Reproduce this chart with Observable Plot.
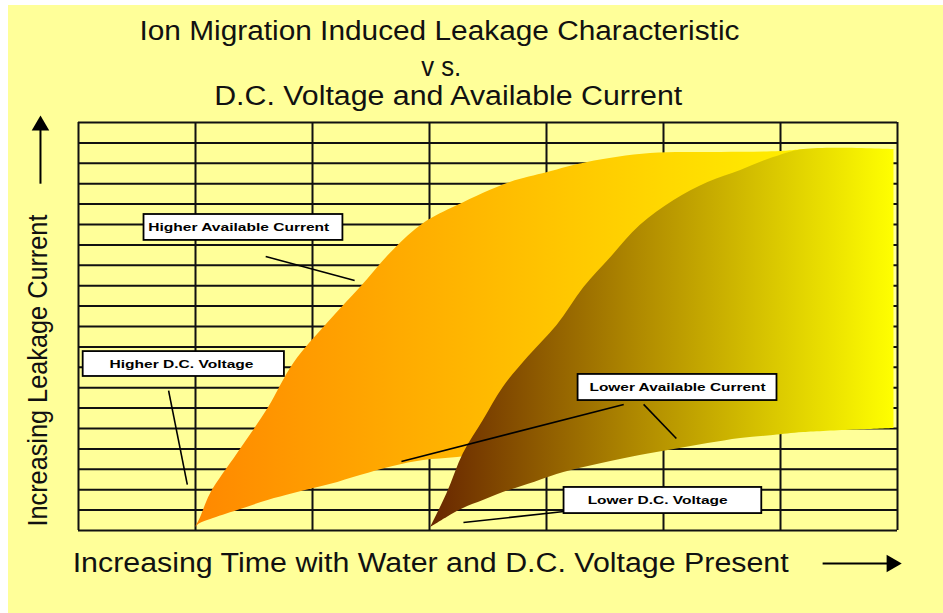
<!DOCTYPE html>
<html>
<head>
<meta charset="utf-8">
<script src="https://cdn.jsdelivr.net/npm/d3@7"></script>
<script src="https://cdn.jsdelivr.net/npm/@observablehq/plot@0.6"></script>
<style>
  html, body { margin: 0; padding: 0; background: #ffffff; }
  #chart svg { display: block; margin-left: 8px; margin-top: 5px; }
</style>
</head>
<body>
<div id="chart"></div>
<script>
// ---- grid (columns = time units, rows = leakage units) ----
const colTicks = [0, 1, 2, 3, 4, 5, 6, 7];
const rowTicks = [0, 1, 2, 3, 4, 5, 6, 7, 8, 9, 10, 11, 12, 13, 14, 15, 16, 17, 18, 19, 20];

// ---- Higher D.C. voltage band (orange) ----
const aX      = [1.00, 1.04, 1.13, 1.36, 1.62, 1.84, 2.15, 2.41, 2.69, 2.95, 3.24, 3.69, 4.01, 4.35, 4.89, 5.49, 6.00, 6.20];
const aTop    = [0.15, 0.59, 1.81, 3.77, 5.98, 8.19, 10.29, 11.91, 13.73, 15.05, 15.93, 17.06, 17.55, 18.04, 18.48, 18.53, 18.58, 18.68];
const aBottom = [0.15, 0.34, 0.54, 0.98, 1.47, 1.81, 2.25, 2.70, 3.14, 3.43, 3.58, 3.82, 3.97, 4.12, 4.40, 4.80, 5.40, 5.80];

// ---- Lower D.C. voltage band (brown -> yellow) ----
const bX      = [3.01, 3.15, 3.29, 3.46, 3.63, 3.84, 4.09, 4.32, 4.55, 4.80, 5.09, 5.38, 5.66, 5.94, 6.20, 6.97];
const bTop    = [0.15, 1.81, 3.77, 5.39, 7.01, 8.48, 10.05, 11.91, 13.38, 14.95, 16.18, 17.06, 17.65, 18.28, 18.68, 18.68];
const bBottom = [0.15, 0.64, 1.08, 1.47, 1.86, 2.25, 2.75, 3.09, 3.38, 3.68, 3.97, 4.26, 4.51, 4.66, 4.80, 5.00];

// ---- callout labels ----
const calloutText = ["Higher Available Current", "Higher D.C. Voltage", "Lower Available Current", "Lower D.C. Voltage"];
const calloutX1 = [0.56, 0.04, 4.27, 4.15];
const calloutX2 = [2.26, 1.76, 5.97, 5.84];
const calloutY1 = [14.22, 7.55, 6.37, 0.83];
const calloutY2 = [15.49, 8.77, 7.65, 2.11];
const calloutTX = [1.37, 0.88, 5.12, 4.95];
const calloutTY = [14.85, 8.16, 7.01, 1.47];

// ---- leader lines ----
const leaderX1 = [1.60, 0.77, 4.66, 4.83, 3.29];
const leaderY1 = [13.43, 6.86, 6.18, 6.18, 0.39];
const leaderX2 = [2.36, 0.93, 2.76, 5.11, 4.15];
const leaderY2 = [12.25, 2.25, 3.38, 4.51, 0.93];

// ---- titles & axis labels ----
const titleLines = ["Ion Migration Induced Leakage Characteristic", "v s.", "D.C. Voltage and Available Current"];
const titleX = [3.085, 3.10, 3.16];
const titleY = [24.05, 22.3, 20.85];
const xLabel = "Increasing Time with Water and D.C. Voltage Present";
const yLabel = "Increasing Leakage Current";

// ---- axis arrows ----
const arrowX1 = [6.36, -0.325];
const arrowY1 = [-1.62, 17.0];
const arrowX2 = [6.95, -0.325];
const arrowY2 = [-1.62, 19.85];
const arrowRot = [90, 0];

const font = "'Liberation Sans', Arial, sans-serif";
const idx = (arr) => arr.map((_, i) => i);

const gradients = (index, scales) => {
  const defs = d3.create("svg:defs");
  const ga = defs.append("linearGradient").attr("id", "gradA").attr("gradientUnits", "userSpaceOnUse")
    .attr("x1", scales.x(aX[0])).attr("x2", scales.x(bX[bX.length - 1])).attr("y1", 0).attr("y2", 0);
  ga.append("stop").attr("offset", 0).attr("stop-color", "#FF8800");
  ga.append("stop").attr("offset", 1).attr("stop-color", "#FFFF00");
  const gb = defs.append("linearGradient").attr("id", "gradB").attr("gradientUnits", "userSpaceOnUse")
    .attr("x1", scales.x(bX[0])).attr("x2", scales.x(bX[bX.length - 1])).attr("y1", 0).attr("y2", 0);
  gb.append("stop").attr("offset", 0).attr("stop-color", "#682600");
  gb.append("stop").attr("offset", 0.45).attr("stop-color", "#B08A00");
  gb.append("stop").attr("offset", 1).attr("stop-color", "#FFFF00");
  return defs.node();
};

const chart = Plot.plot({
  width: 935,
  height: 608,
  marginLeft: 70,
  marginRight: 46,
  marginTop: 117,
  marginBottom: 83,
  x: { domain: [0, 7], axis: null },
  y: { domain: [0, 20], axis: null },
  style: { background: "#FFFF99", overflow: "visible" },
  marks: [
    gradients,
    Plot.ruleX(colTicks, { x: d => d, y1: 0, y2: 20, stroke: "#111", strokeWidth: 2 }),
    Plot.ruleY(rowTicks, { y: d => d, x1: 0, x2: 7, stroke: "#111", strokeWidth: 2 }),
    Plot.areaY(idx(aX), { x: i => aX[i], y1: i => aBottom[i], y2: i => aTop[i], fill: "url(#gradA)", curve: "catmull-rom" }),
    Plot.areaY(idx(bX), { x: i => bX[i], y1: i => bBottom[i], y2: i => bTop[i], fill: "url(#gradB)", curve: "catmull-rom" }),
    Plot.link(idx(leaderX1), { x1: i => leaderX1[i], y1: i => leaderY1[i], x2: i => leaderX2[i], y2: i => leaderY2[i], stroke: "#000", strokeWidth: 1.6 }),
    Plot.rect(idx(calloutText), { x1: i => calloutX1[i], x2: i => calloutX2[i], y1: i => calloutY1[i], y2: i => calloutY2[i], fill: "#fff", stroke: "#000", strokeWidth: 1.8 }),
    Plot.text(idx(calloutText), { x: i => calloutTX[i], y: i => calloutTY[i], text: i => calloutText[i], fontSize: 11, fontWeight: "bold", fontFamily: font, fill: "#000" }),
    Plot.text(idx(titleLines), { x: i => titleX[i], y: i => titleY[i], text: i => titleLines[i], fontSize: 27, fontFamily: font, fill: "#111", lineAnchor: "bottom" }),
    Plot.text([xLabel], { x: 3.01, y: -2.01, text: d => d, fontSize: 27, fontFamily: font, fill: "#111", lineAnchor: "bottom" }),
    Plot.text([yLabel], { x: -0.34, y: 7.84, text: d => d, fontSize: 27, fontFamily: font, fill: "#111", rotate: -90 }),
    Plot.link(idx(arrowX1), { x1: i => arrowX1[i], y1: i => arrowY1[i], x2: i => arrowX2[i], y2: i => arrowY2[i], stroke: "#000", strokeWidth: 2 }),
    Plot.dot(idx(arrowX1), { x: i => arrowX2[i], y: i => arrowY2[i], symbol: "triangle", r: 6.5, fill: "#000", stroke: null, rotate: i => arrowRot[i] })
  ]
});

document.getElementById("chart").appendChild(chart);

// stretch text to the widths seen in the reference
const fitWidths = new Map([
  [titleLines[0], 600], [titleLines[1], 40], [titleLines[2], 468],
  [xLabel, 716], [yLabel, 312],
  [calloutText[0], 181], [calloutText[1], 144], [calloutText[2], 176], [calloutText[3], 140]
]);
chart.querySelectorAll("text").forEach(t => {
  const w = fitWidths.get(t.textContent);
  if (w) {
    t.setAttribute("textLength", w);
    t.setAttribute("lengthAdjust", "spacingAndGlyphs");
  }
});
</script>
</body>
</html>
